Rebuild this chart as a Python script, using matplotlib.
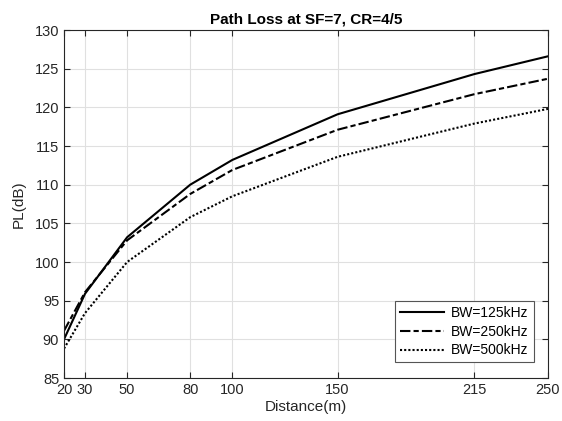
import matplotlib
matplotlib.use("Agg")
import matplotlib.pyplot as plt

plt.rcParams['font.family'] = ['Liberation Sans', 'DejaVu Sans']

distance = [20, 30, 50, 80, 100, 150, 215, 250]
pl_125 = [90.0, 95.9, 103.2, 110.0, 113.2, 119.1, 124.3, 126.6]
pl_250 = [91.1, 96.1, 102.8, 108.8, 111.9, 117.1, 121.7, 123.7]
pl_500 = [88.8, 93.4, 100.0, 105.8, 108.5, 113.6, 117.9, 119.8]
labels = ['BW=125kHz', 'BW=250kHz', 'BW=500kHz']
xticks = [20, 30, 50, 80, 100, 150, 215, 250]
yticks = list(range(85, 131, 5))

fig = plt.figure(figsize=(5.62, 4.21), dpi=100)
ax = fig.add_axes([64/562, 1 - 378/421, (548-64)/562, (378-30)/421])

ax.plot(distance, pl_125, color='black', linestyle='-', linewidth=1.5, label=labels[0])
ax.plot(distance, pl_250, color='black', linestyle=(0, (5, 1.5, 2.5, 1.5)), linewidth=1.5, label=labels[1])
ax.plot(distance, pl_500, color='black', linestyle=(0, (1, 1)), linewidth=1.5, label=labels[2])

ax.set_xlim(20, 250)
ax.set_ylim(85, 130)
ax.set_xticks(xticks)
ax.set_yticks(yticks)
ax.tick_params(direction='in', top=True, right=True, labelsize=10.5, colors='#262626', length=4)
ax.grid(True, color='#e0e0e0', linewidth=0.8)
ax.set_axisbelow(True)
for s in ax.spines.values():
    s.set_color('#262626')
    s.set_linewidth(0.8)

ax.set_xlabel('Distance(m)', fontsize=11, color='#262626', labelpad=2)
ax.set_ylabel('PL(dB)', fontsize=11, color='#262626', labelpad=6)
ax.set_title('Path Loss at SF=7, CR=4/5', fontsize=11, fontweight='bold', pad=5)

leg = ax.legend(loc='lower right', fontsize=10, fancybox=False, framealpha=1,
                edgecolor='#555555', handlelength=3.2, borderpad=0.35, labelspacing=0.35,
                handletextpad=0.5, bbox_to_anchor=(0.985, 0.025))
leg.get_frame().set_linewidth(0.8)

fig.savefig('out.png', dpi=100)
